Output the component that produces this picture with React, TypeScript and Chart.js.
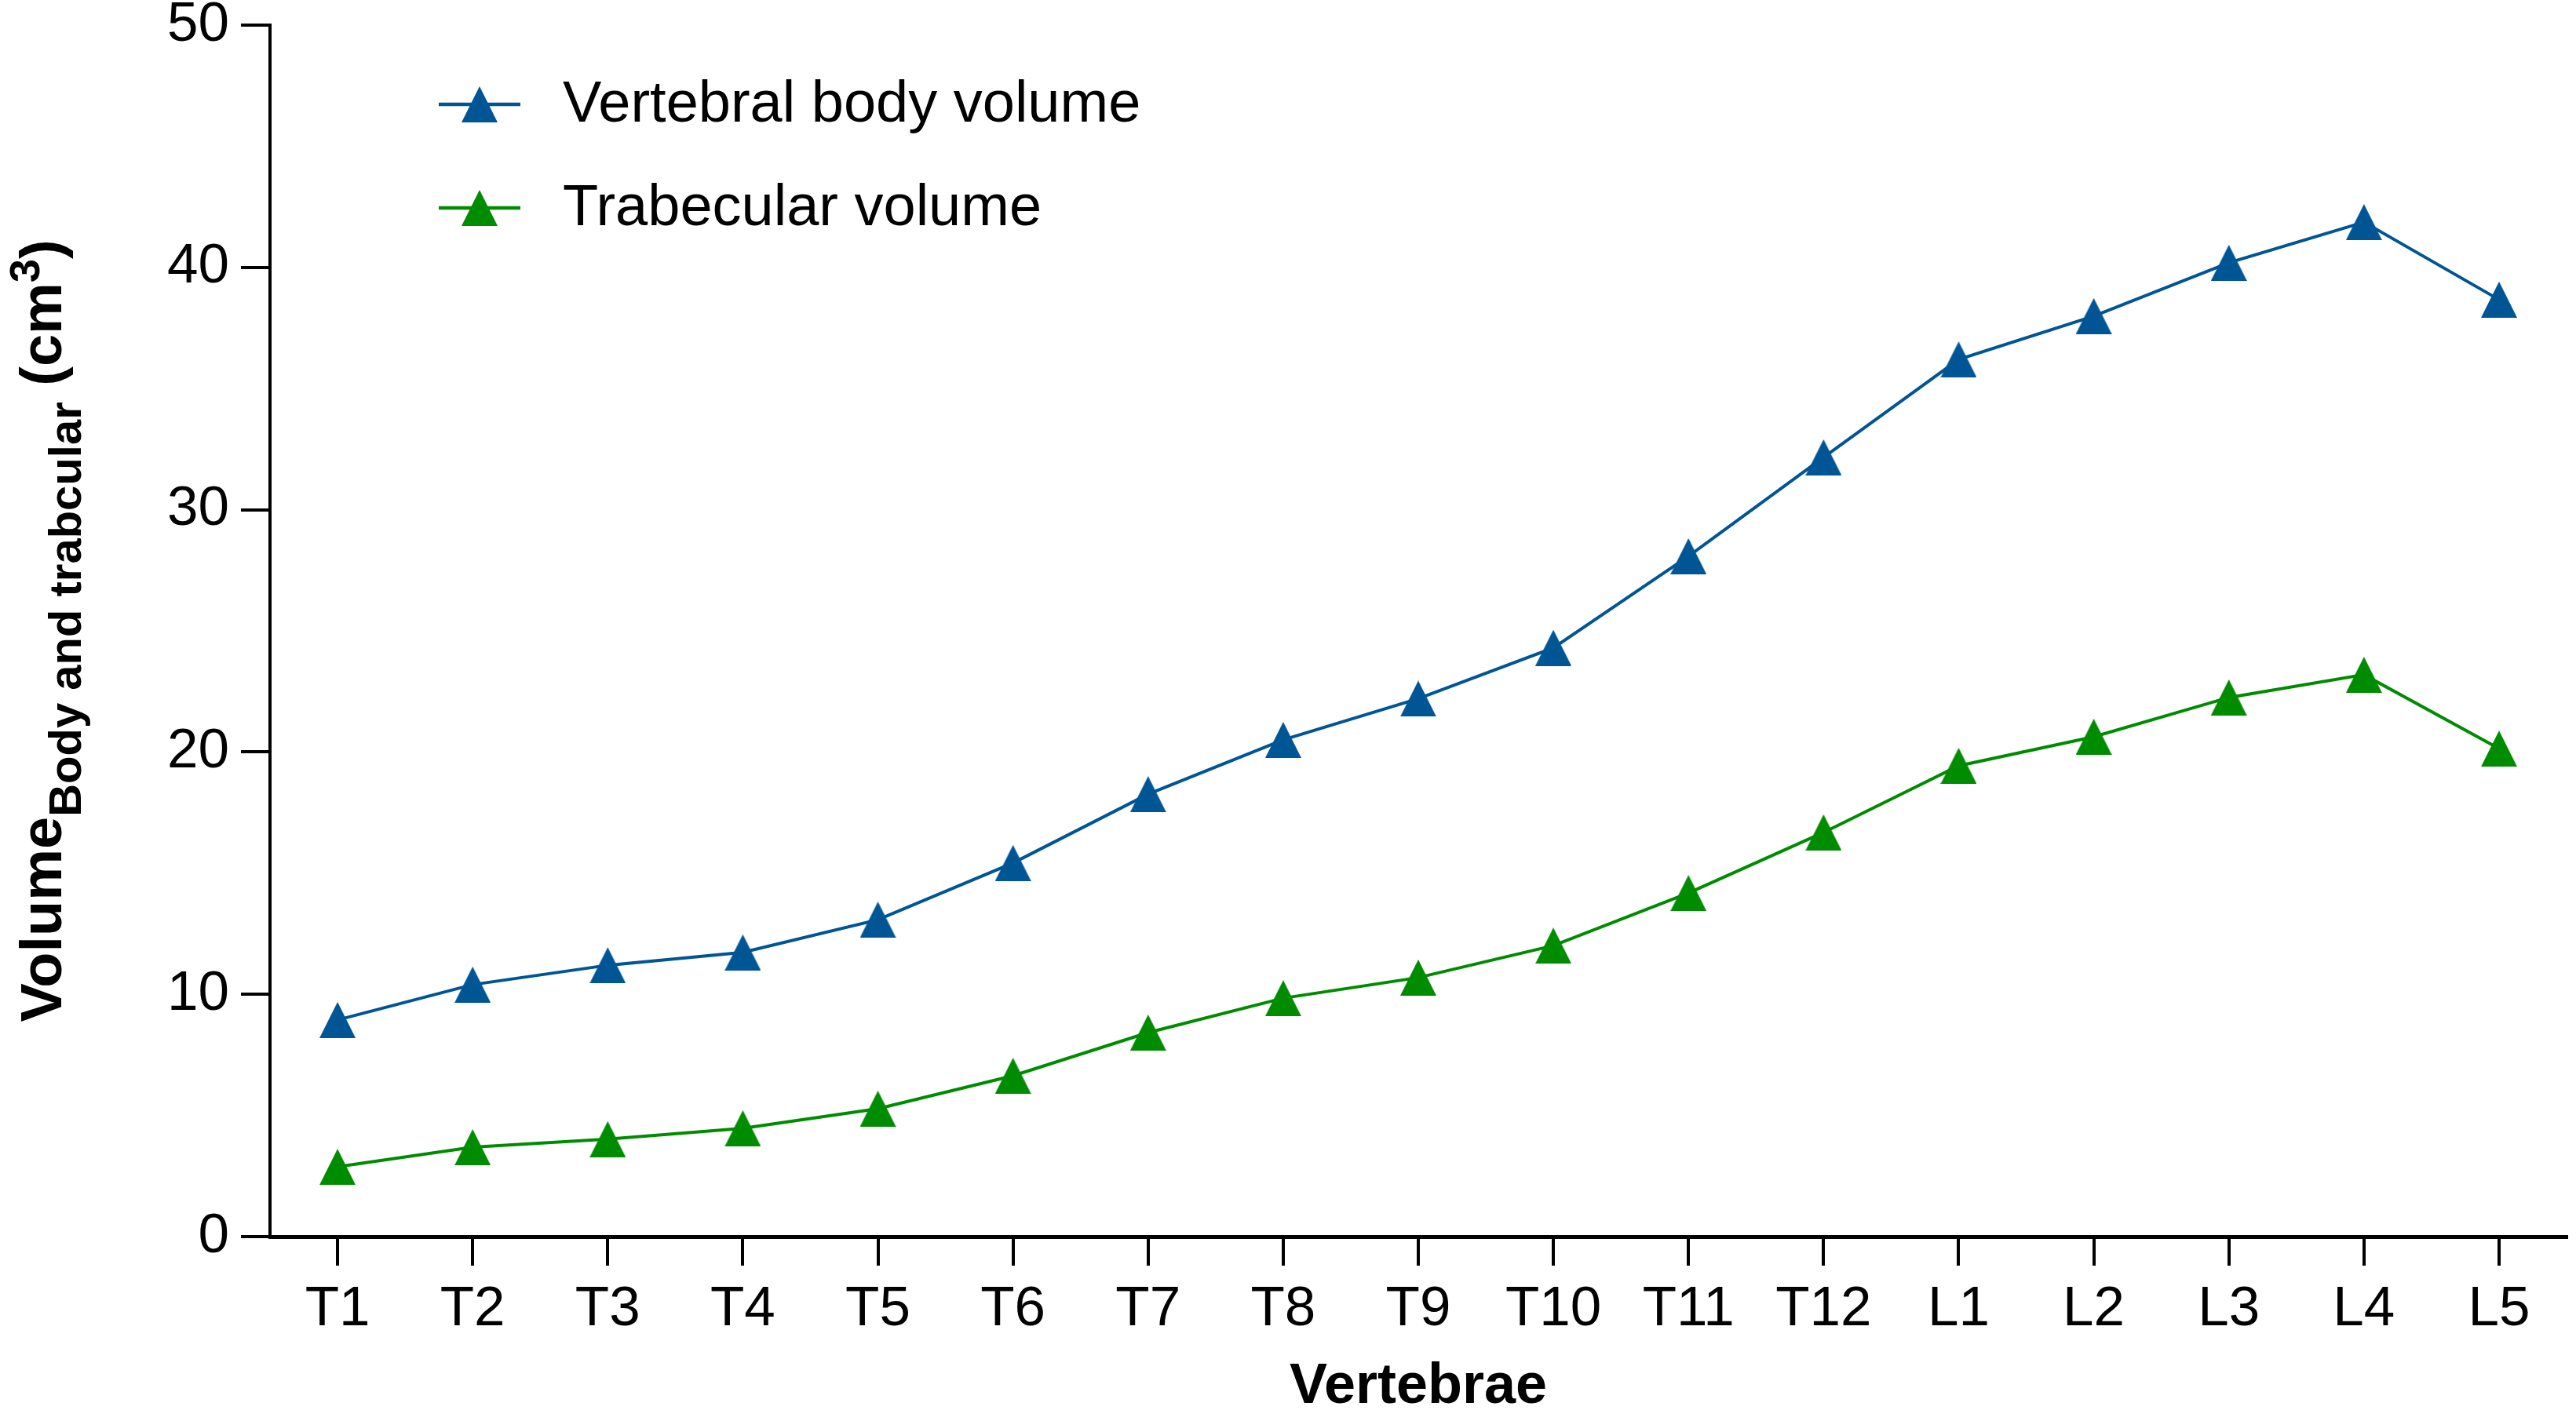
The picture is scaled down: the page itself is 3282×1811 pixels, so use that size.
import { useEffect, useRef } from "react"
import { Chart, registerables } from "chart.js"
import type { Plugin } from "chart.js"

Chart.register(...registerables)

const vertebrae = ["T1", "T2", "T3", "T4", "T5", "T6", "T7", "T8", "T9", "T10", "T11", "T12", "L1", "L2", "L3", "L4", "L5"]

const bodyVolume = [8.94, 10.4, 11.2, 11.73, 13.08, 15.42, 18.26, 20.5, 22.2, 24.3, 28.08, 32.16, 36.2, 37.99, 40.19, 41.87, 38.67]

const trabecularVolume = [2.88, 3.69, 4.02, 4.47, 5.28, 6.64, 8.42, 9.84, 10.69, 12.01, 14.18, 16.68, 19.43, 20.63, 22.25, 23.19, 20.14]

const yTickValues = [0, 10, 20, 30, 40, 50]

const seriesLabels = ["Vertebral body volume", "Trabecular volume"]

const BLUE = "#005595"
const GREEN = "#008C00"
const FONT = "'Liberation Sans', Arial, Helvetica, sans-serif"

// triangulo isosceles como imagen para usar de pointStyle
function makeTriangle(color: string, w = 46, h = 46) {
  const c = document.createElement("canvas")
  c.width = w
  c.height = h
  const ctx = c.getContext("2d")
  if (ctx) {
    ctx.fillStyle = color
    ctx.beginPath()
    ctx.moveTo(w / 2, 0)
    ctx.lineTo(w, h)
    ctx.lineTo(0, h)
    ctx.closePath()
    ctx.fill()
  }
  return c
}

// leyenda dibujada dentro del area del grafico
const legendPlugin: Plugin<"line"> = {
  id: "insideLegend",
  afterDraw(chart) {
    const { ctx } = chart
    const x0 = chart.chartArea.left + 215
    const y0 = 133
    const rowGap = 132
    ctx.save()
    chart.data.datasets.forEach((ds, i) => {
      const y = y0 + i * rowGap
      const color = ds.borderColor as string
      ctx.strokeStyle = color
      ctx.lineWidth = 4.5
      ctx.beginPath()
      ctx.moveTo(x0, y)
      ctx.lineTo(x0 + 104, y)
      ctx.stroke()
      const img = (ds as any).pointStyle as HTMLCanvasElement
      ctx.drawImage(img, x0 + 52 - img.width / 2, y - img.height / 2)
      ctx.fillStyle = "#000"
      ctx.font = `74px ${FONT}`
      ctx.textAlign = "left"
      ctx.textBaseline = "middle"
      ctx.fillText(ds.label ?? "", x0 + 158, y + 2)
    })
    ctx.restore()
  },
}

// titulo del eje Y con subindice y superindice
const yTitlePlugin: Plugin<"line"> = {
  id: "yTitle",
  afterDraw(chart) {
    const { ctx, chartArea } = chart
    const parts = [
      { text: "Volume", size: 74, shift: 0 },
      { text: "Body and trabcular", size: 58, shift: 25 },
      { text: " (cm", size: 74, shift: 0 },
      { text: "3", size: 54, shift: -28 },
      { text: ")", size: 74, shift: 0 },
    ]
    ctx.save()
    let total = 0
    const widths = parts.map((p) => {
      ctx.font = `bold ${p.size}px ${FONT}`
      const w = ctx.measureText(p.text).width
      total += w
      return w
    })
    const cy = (chartArea.top + chartArea.bottom) / 2
    ctx.translate(78, cy)
    ctx.rotate(-Math.PI / 2)
    ctx.fillStyle = "#000"
    ctx.textAlign = "left"
    ctx.textBaseline = "alphabetic"
    let x = -total / 2
    parts.forEach((p, i) => {
      ctx.font = `bold ${p.size}px ${FONT}`
      ctx.fillText(p.text, x, p.shift)
      x += widths[i]
    })
    ctx.restore()
  },
}

export default function App() {
  const chartRef = useRef<HTMLCanvasElement>(null)
  const chartInstance = useRef<Chart<"line"> | null>(null)

  useEffect(() => {
    document.body.style.margin = "0"
    if (!chartRef.current) return

    if (chartInstance.current) {
      chartInstance.current.destroy()
    }

    const ctx = chartRef.current.getContext("2d")
    if (!ctx) return

    chartInstance.current = new Chart(ctx, {
      type: "line",
      data: {
        labels: vertebrae,
        datasets: [
          {
            label: seriesLabels[0],
            data: bodyVolume,
            borderColor: BLUE,
            backgroundColor: BLUE,
            borderWidth: 4,
            pointStyle: makeTriangle(BLUE),
            tension: 0,
          },
          {
            label: seriesLabels[1],
            data: trabecularVolume,
            borderColor: GREEN,
            backgroundColor: GREEN,
            borderWidth: 4,
            pointStyle: makeTriangle(GREEN),
            tension: 0,
          },
        ],
      },
      options: {
        animation: false,
        responsive: true,
        maintainAspectRatio: false,
        devicePixelRatio: 1,
        layout: {
          padding: { top: 32, right: 12, left: 0, bottom: 0 },
        },
        plugins: {
          legend: { display: false },
          tooltip: { enabled: false },
        },
        font: { family: FONT },
        scales: {
          x: {
            offset: true,
            grid: {
              display: true,
              drawOnChartArea: false,
              color: "#000",
              lineWidth: 4,
              tickLength: 37,
              offset: false,
            },
            border: { display: true, color: "#000", width: 5 },
            ticks: {
              color: "#000",
              font: { family: FONT, size: 71 },
              padding: 14,
              maxRotation: 0,
              autoSkip: false,
            },
            title: {
              display: true,
              text: "Vertebrae",
              color: "#000",
              font: { family: FONT, size: 72, weight: "bold" },
              padding: 0,
            },
            afterFit: (scale) => {
              scale.height = 235
            },
          },
          y: {
            min: 0,
            max: 50,
            grid: {
              display: true,
              drawOnChartArea: false,
              color: "#000",
              lineWidth: 4,
              tickLength: 37,
            },
            border: { display: true, color: "#000", width: 4 },
            ticks: {
              color: "#000",
              font: { family: FONT, size: 71, lineHeight: 0.4 },
              padding: 15,
            },
            afterBuildTicks: (scale) => {
              scale.ticks = yTickValues.map((v) => ({ value: v }))
            },
            afterFit: (scale) => {
              scale.width = 344
            },
          },
        },
      },
      plugins: [legendPlugin, yTitlePlugin],
    })

    return () => {
      if (chartInstance.current) {
        chartInstance.current.destroy()
        chartInstance.current = null
      }
    }
  }, [])

  return (
    <div style={{ position: "fixed", left: 0, top: 0, width: 3282, height: 1811, background: "#fff" }}>
      <canvas ref={chartRef} />
    </div>
  )
}
